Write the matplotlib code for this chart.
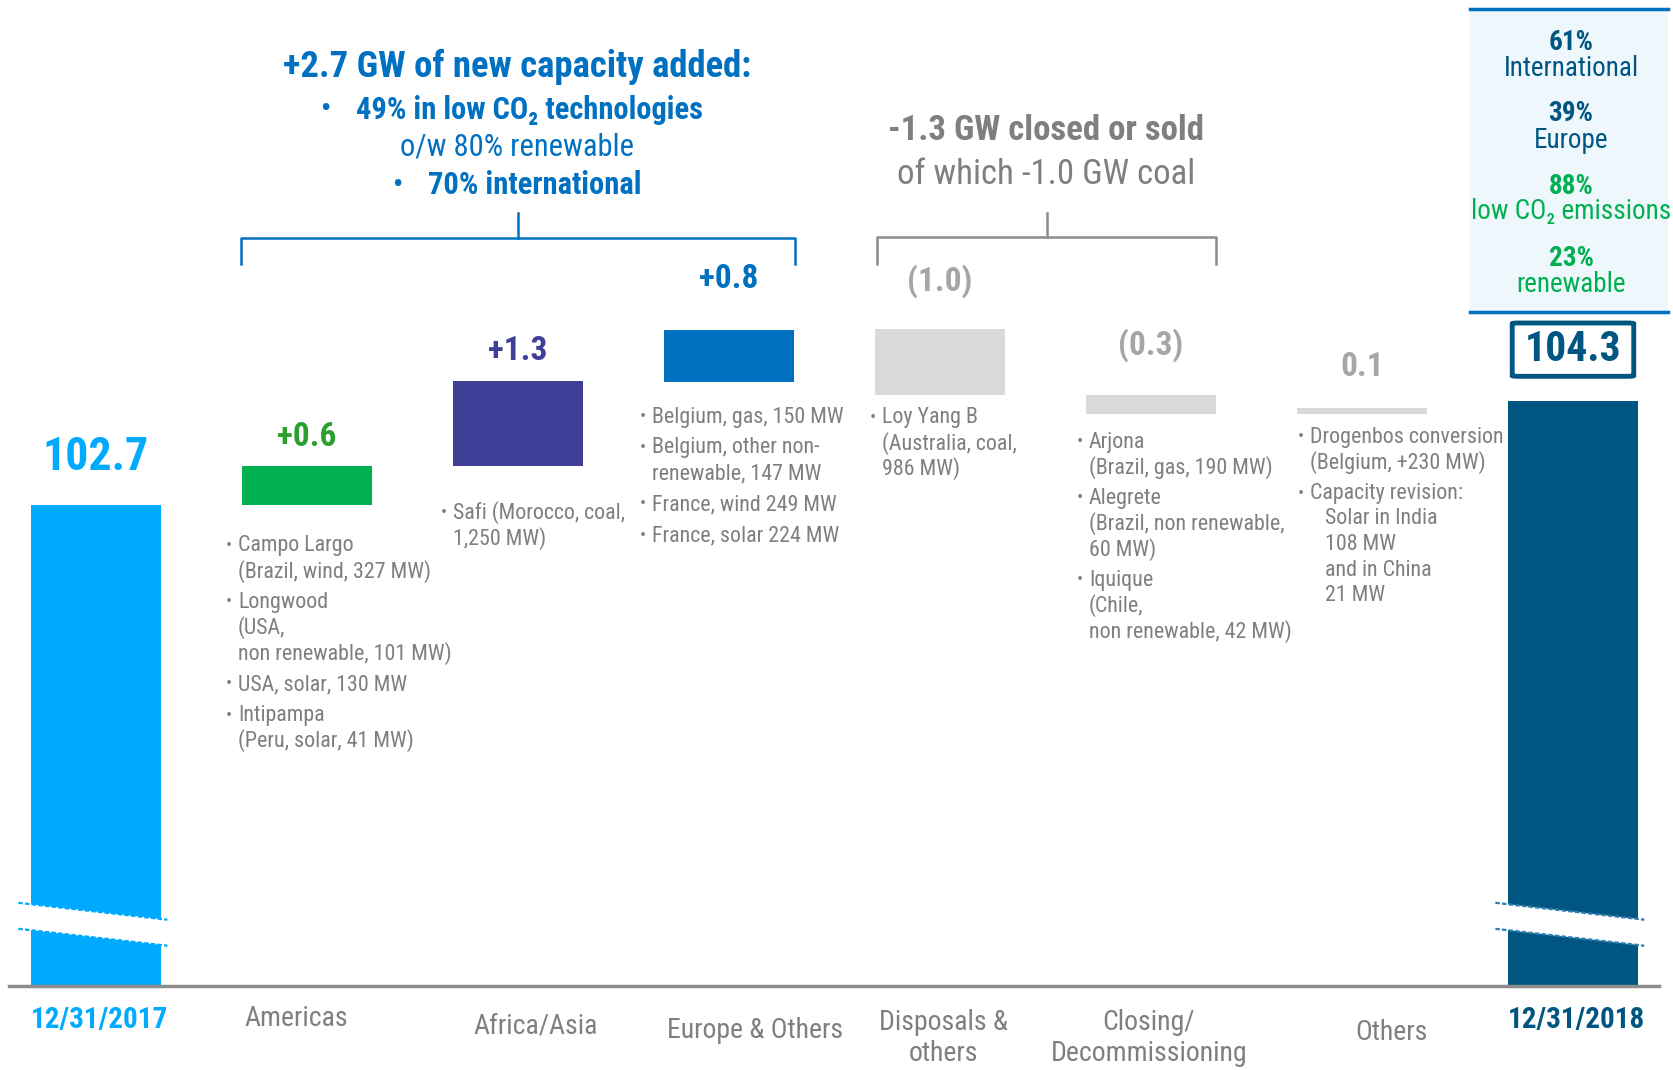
import matplotlib
matplotlib.use("Agg")
import matplotlib.pyplot as plt
from matplotlib.patches import Rectangle, FancyBboxPatch, Polygon

plt.rcParams['font.family'] = ['Roboto Condensed', 'Liberation Sans', 'DejaVu Sans']

# ---- data ----
categories = ['12/31/2017', 'Americas', 'Africa/Asia', 'Europe & Others',
              'Disposals &\nothers', 'Closing/\nDecommissioning', 'Others', '12/31/2018']
start_value = 102.7
changes = [0.6, 1.3, 0.8, -1.0, -0.3, 0.1]
end_value = 104.3
value_labels = ['102.7', '+0.6', '+1.3', '+0.8', '(1.0)', '(0.3)', '0.1', '104.3']

notes = [
    [],
    [['Campo Largo', '(Brazil, wind, 327 MW)'],
     ['Longwood', '(USA,', 'non renewable, 101 MW)'],
     ['USA, solar, 130 MW'],
     ['Intipampa', '(Peru, solar, 41 MW)']],
    [['Safi (Morocco, coal,', '1,250 MW)']],
    [['Belgium, gas, 150 MW'],
     ['Belgium, other non-', 'renewable, 147 MW'],
     ['France, wind 249 MW'],
     ['France, solar 224 MW']],
    [['Loy Yang B', '(Australia, coal,', '986 MW)']],
    [['Arjona', '(Brazil, gas, 190 MW)'],
     ['Alegrete', '(Brazil, non renewable,', '60 MW)'],
     ['Iquique', '(Chile,', 'non renewable, 42 MW)']],
    [['Drogenbos conversion', '(Belgium, +230 MW)'],
     ['Capacity revision:', '   Solar in India', '   108 MW', '   and in China', '   21 MW']],
    [],
]

panel_pct = ['61%', '39%', '88%', '23%']
panel_txt = ['International', 'Europe', 'low CO₂ emissions', 'renewable']

# ---- styles ----
LIGHT = '#00aaff'
GREEN = '#00b050'
PURPLE = '#3f3f98'
BLUE = '#0070c0'
GREYBAR = '#d9d9d9'
DARK = '#005680'
GREYTXT = '#7f7f7f'
bar_colors = [LIGHT, GREEN, PURPLE, BLUE, GREYBAR, GREYBAR, GREYBAR, DARK]
label_colors = [LIGHT, '#2ca02c', PURPLE, BLUE, '#a6a6a6', '#a6a6a6', '#a6a6a6', DARK]
label_offsets = [48, 29, 30, 50, 48, 49, 40, 0]  # px above bar top

W, H = 1673, 1070
BASE = 95.3
K = 65.0  # px per GW
fig = plt.figure(figsize=(W / 100, H / 100), dpi=100)
ax = fig.add_axes([0, 0, 1, 1])
ax.set_xlim(-0.455, 7.474)
ax.set_ylim(BASE - (H - 986) / K, BASE + 986 / K)
ax.axis('off')


def P(x, y):
    return x / W, 1 - y / H


bw = 0.616
# waterfall levels
tops = []
bottoms = []
level = start_value
tops.append(start_value)
bottoms.append(BASE)
for c in changes:
    new = level + c
    tops.append(max(level, new))
    bottoms.append(min(level, new))
    level = new
tops.append(end_value)
bottoms.append(BASE)

ax.bar(range(8), [t - b for t, b in zip(tops, bottoms)], bottom=bottoms,
       width=bw, color=bar_colors, zorder=2)

# axis break marks on the total bars
for i, col in [(0, LIGHT), (7, '#2b7db0')]:
    xl, xr = i - bw / 2 - 0.06, i + bw / 2 + 0.03
    up = (BASE + 1.28, BASE + 1.02)
    lo = (BASE + 0.88, BASE + 0.62)
    ax.add_patch(Polygon([(xl, up[0]), (xr, up[1]), (xr, lo[1]), (xl, lo[0])],
                         closed=True, facecolor='white', edgecolor='none', zorder=3))
    ax.plot([xl, xr], up, color=col, lw=1.6, ls=(0, (2, 1)), zorder=4)
    ax.plot([xl, xr], lo, color=col, lw=1.6, ls=(0, (2, 1)), zorder=4)

# baseline
ax.plot([-0.41, 7.41], [BASE, BASE], color='#8c8c8c', lw=2.5, zorder=5)

# value labels
for i in range(7):
    size = 33 if i == 0 else 24
    ax.annotate(value_labels[i], (i, tops[i]), xytext=(0, label_offsets[i] * 0.72),
                textcoords='offset points', ha='center', va='center',
                fontsize=size, fontweight='bold', color=label_colors[i])

# boxed end value
bx0 = 7 - bw / 2
ax.add_patch(FancyBboxPatch((bx0 + 0.02, end_value + 0.38), bw - 0.04, 0.82,
                            boxstyle='round,pad=0,rounding_size=0.03',
                            facecolor='white', edgecolor=DARK, lw=3.5, zorder=4,
                            mutation_aspect=1 / 3))
ax.text(7, end_value + 0.79, value_labels[7], ha='center', va='center',
        fontsize=30, fontweight='bold', color=DARK, zorder=5)

# category labels
cat_pos = [(99, 1020), (296, 1019), (536, 1026), (755, 1030),
           (944, 1038), (1149, 1038), (1391, 1033), (1576, 1020)]
for i, (name, (x, y)) in enumerate(zip(categories, cat_pos)):
    if i in (0, 7):
        fig.text(*P(x, y), name, ha='center', va='center', fontsize=21,
                 fontweight='bold', color=bar_colors[i])
    else:
        fig.text(*P(x, y), name, ha='center', va='center', fontsize=20,
                 color=GREYTXT, linespacing=1.2)

# notes
note_pos = [None, (226, 546), (441, 513), (640, 417), (870, 418),
            (1077, 442), (1298, 437), None]
for items, pos in zip(notes, note_pos):
    if not items:
        continue
    xb, y = pos
    for bullet in items:
        fig.text(*P(xb, y), '•', ha='left', va='center', fontsize=13, color=GREYTXT)
        for line in bullet:
            fig.text(*P(xb + 12, y), line, ha='left', va='center', fontsize=15.8,
                     color=GREYTXT)
            y += 25.5
        y += 5.5

# brackets
bl = [(241, 264), (241, 238), (795, 238), (795, 264)]
ax.plot(*zip(*[(x / 211 - 0.455, BASE + (986 - y) / K) for x, y in bl]),
        color=BLUE, lw=1.8)
ax.plot([518 / 211 - 0.455] * 2, [BASE + (986 - 213) / K, BASE + (986 - 238) / K],
        color=BLUE, lw=1.8)
gl = [(877, 264), (877, 237), (1216, 237), (1216, 264)]
ax.plot(*zip(*[(x / 211 - 0.455, BASE + (986 - y) / K) for x, y in gl]),
        color='#8c8c8c', lw=1.8)
ax.plot([1047 / 211 - 0.455] * 2, [BASE + (986 - 213) / K, BASE + (986 - 237) / K],
        color='#8c8c8c', lw=1.8)

# headers
fig.text(*P(517, 67), '+2.7 GW of new capacity added:', ha='center', va='center',
         fontsize=26.5, fontweight='bold', color=BLUE)
fig.text(*P(325, 110), '•', ha='center', va='center', fontsize=20, fontweight='bold', color=BLUE)
fig.text(*P(356, 110), '49% in low CO₂ technologies', ha='left', va='center',
         fontsize=22, fontweight='bold', color=BLUE)
fig.text(*P(517, 147), 'o/w 80% renewable', ha='center', va='center',
         fontsize=22, color=BLUE)
fig.text(*P(397, 185), '•', ha='center', va='center', fontsize=20, fontweight='bold', color=BLUE)
fig.text(*P(428, 185), '70% international', ha='left', va='center',
         fontsize=22, fontweight='bold', color=BLUE)

fig.text(*P(1046, 130), '-1.3 GW closed or sold', ha='center', va='center',
         fontsize=25, fontweight='bold', color=GREYTXT)
fig.text(*P(1046, 174), 'of which -1.0 GW coal', ha='center', va='center',
         fontsize=25, color=GREYTXT)

# right panel
fig.patches.append(Rectangle(P(1470, 312), 198 / W, 303 / H, transform=fig.transFigure,
                             facecolor='#eef7fc', edgecolor='none', zorder=0))
for yy in (9, 312):
    fig.lines.append(plt.Line2D([1470 / W, 1668 / W], [1 - yy / H] * 2,
                                transform=fig.transFigure, color=BLUE, lw=2.5))
pct_y = [43, 114, 186, 259]
pct_c = [DARK, DARK, GREEN, GREEN]
for p, t, y, c in zip(panel_pct, panel_txt, pct_y, pct_c):
    fig.text(*P(1571, y), p, ha='center', va='center', fontsize=19.5,
             fontweight='bold', color=c)
    fig.text(*P(1571, y + 26), t, ha='center', va='center', fontsize=19.5, color=c)

fig.savefig('out.png', dpi=100)
